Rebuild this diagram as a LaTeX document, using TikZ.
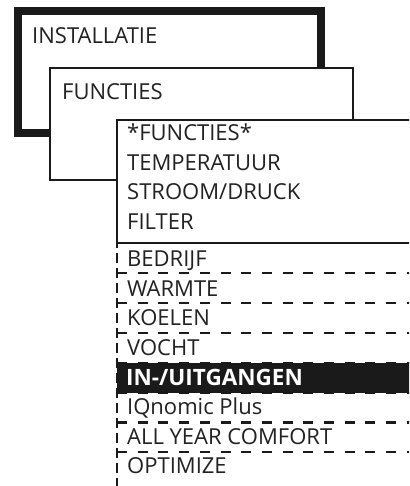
\documentclass[tikz,border=0pt]{standalone}
\usepackage{fontspec}
\setmainfont{Open Sans}
\definecolor{ink}{HTML}{1A1A1A}
\definecolor{txt}{HTML}{222222}
\begin{document}
\begin{tikzpicture}[x=1pt,y=-1pt,
  lbl/.style={anchor=base west,inner sep=0pt,text=txt,font=\fontsize{22}{25}\selectfont},
  hlbl/.style={anchor=base west,inner sep=0pt,text=white,font=\fontsize{22.5}{25}\selectfont\bfseries},
  thinbox/.style={draw=ink,line width=2pt,fill=white},
  hdash/.style={draw=ink,line width=2.4pt,dash pattern=on 10pt off 10.7pt},
  vdash/.style={draw=ink,line width=2.4pt,dash pattern=on 10pt off 5pt,dash phase=5pt}]
\useasboundingbox (0,0) rectangle (409,486);
\clip (0,0) rectangle (409,486);
\fill[white] (0,0) rectangle (409,486);
% box 1
\draw[draw=ink,line width=8pt,fill=white] (18,11) rectangle (321,133);
\node[lbl] (inst) at (32,43.5) {INSTALLATIE};
% box 2
\draw[thinbox] (50,68) rectangle (353,180);
\node[lbl] (func) at (62,99.5) {FUNCTIES};
% box 3 upper part
\draw[thinbox] (117,120) rectangle (430,243);
\node[lbl] (f1) at (127,141) {*FUNCTIES*};
\node[lbl] (f2) at (127,170.5) {TEMPERATUUR};
\node[lbl] (f3) at (127,200) {STROOM/DRUCK};
\node[lbl] (f4) at (127,229.5) {FILTER};
% list
\foreach \yy in {273,303,333,363,393,422.5,452}{
  \draw[hdash] (117,\yy) -- (430,\yy);
}
\draw[vdash] (117,243) -- (117,490);
\fill[ink] (117,363) rectangle (430,393);
\node[lbl] (l1) at (127,266) {BEDRIJF};
\node[lbl] (l2) at (127,296) {WARMTE};
\node[lbl] (l3) at (127,325.5) {KOELEN};
\node[lbl] (l4) at (127,355.5) {VOCHT};
\node[hlbl] (l5) at (126,385.5) {IN-/UITGANGEN};
\node[lbl] (l6) at (127,414.5) {IQnomic Plus};
\node[lbl] (l7) at (127,444) {ALL YEAR COMFORT};
\node[lbl] (l8) at (127,473.5) {OPTIMIZE};
\end{tikzpicture}
\end{document}
